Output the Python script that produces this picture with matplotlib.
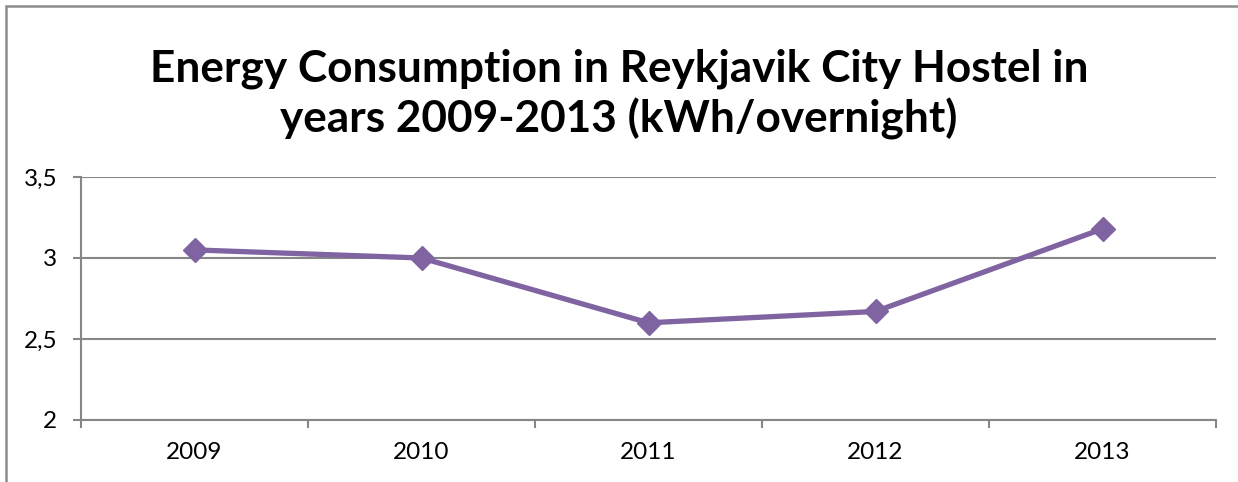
import matplotlib
matplotlib.use('Agg')
import matplotlib.pyplot as plt
from matplotlib.patches import Rectangle
from matplotlib.ticker import FixedLocator, FuncFormatter

years = ['2009', '2010', '2011', '2012', '2013']
energy = [3.05, 3.0, 2.6, 2.67, 3.18]  # kWh / overnight

plt.rcParams['font.family'] = ['Lato', 'DejaVu Sans']

W, H = 1238, 482
fig = plt.figure(figsize=(W / 100, H / 100), dpi=100)

# outer chart frame (right and bottom cut off in the original)
fig.patches.append(Rectangle((6 / W, -0.1), 1.2, 1 - 6 / H + 0.1, transform=fig.transFigure,
                             fill=False, edgecolor='#8c8c8c', linewidth=1.8))

ax = fig.add_axes([81 / W, 1 - 420 / H, (1216 - 81) / W, (420 - 177) / H])
x = list(range(len(years)))
ax.plot(x, energy, color='#8064A2', linewidth=3.8, marker='D', markersize=12,
        markeredgecolor='#8064A2', solid_joinstyle='round', zorder=3)

ax.set_xlim(-0.5, len(years) - 0.5)
ax.set_ylim(2, 3.5)
ax.set_yticks([2, 2.5, 3, 3.5])
ax.yaxis.set_major_formatter(FuncFormatter(lambda v, p: ('%g' % v).replace('.', ',')))
ax.xaxis.set_major_locator(FixedLocator([i - 0.5 for i in range(len(years) + 1)]))
ax.xaxis.set_minor_locator(FixedLocator(x))
ax.set_xticklabels([])
ax.set_xticklabels(years, minor=True)

ax.grid(axis='y', color='#868686', linewidth=1.5)
ax.set_axisbelow(True)
for s in ['top', 'right']:
    ax.spines[s].set_visible(False)
for s in ['left', 'bottom']:
    ax.spines[s].set_color('#868686')
    ax.spines[s].set_linewidth(1.5)
ax.tick_params(axis='y', which='major', length=6, width=1.5, color='#868686',
               labelsize=17.5, pad=11)
ax.tick_params(axis='x', which='major', length=6, width=1.5, color='#868686')
ax.tick_params(axis='x', which='minor', length=0, labelsize=17.5, pad=16)

fig.text(0.5, 1 - 94 / H, 'Energy Consumption in Reykjavik City Hostel in\nyears 2009-2013 (kWh/overnight)',
         ha='center', va='center', fontsize=31.8, fontweight='bold', linespacing=1.25)

fig.savefig('out.png', dpi=100)
